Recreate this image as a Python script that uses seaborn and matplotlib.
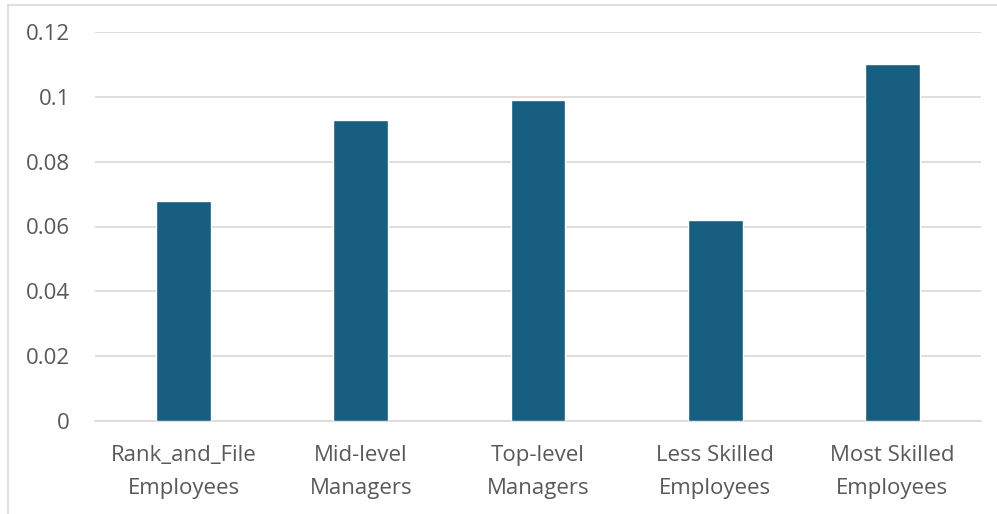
import matplotlib
matplotlib.use("Agg")
import matplotlib.pyplot as plt
import seaborn as sns
import pandas as pd
from matplotlib.lines import Line2D

categories = ["Rank_and_File\nEmployees", "Mid-level\nManagers", "Top-level\nManagers",
              "Less Skilled\nEmployees", "Most Skilled\nEmployees"]
values = [0.068, 0.093, 0.099, 0.062, 0.110]
yticks = [0, 0.02, 0.04, 0.06, 0.08, 0.1, 0.12]
ytick_labels = ["0", "0.02", "0.04", "0.06", "0.08", "0.1", "0.12"]

sns.set_style("white")
plt.rcParams['font.family'] = ['Open Sans', 'DejaVu Sans']

df = pd.DataFrame({"cat": categories, "val": values})

fig = plt.figure(figsize=(9.97, 5.14), dpi=100)
ax = fig.add_axes([95/997, 1 - 421/514, (981 - 95)/997, (421 - 32)/514])

sns.barplot(data=df, x="cat", y="val", color="#175E80", width=0.31, ax=ax,
            saturation=1, zorder=3)

ax.set_ylim(0, 0.12)
ax.set_xlim(-0.5, len(categories) - 0.5)
ax.set_yticks(yticks)
ax.set_yticklabels(ytick_labels)
ax.grid(axis="y", color="#D9D9D9", linewidth=1.2, zorder=0)
ax.set_axisbelow(True)
for s in ["top", "right", "left"]:
    ax.spines[s].set_visible(False)
ax.spines["bottom"].set_color("#D9D9D9")
ax.spines["bottom"].set_linewidth(1.2)
ax.set_xlabel("")
ax.set_ylabel("")
ax.tick_params(axis="both", length=0, labelsize=16, labelcolor="#595959")
ax.tick_params(axis="y", pad=18)
ax.tick_params(axis="x", pad=17)
for lbl in ax.get_xticklabels():
    lbl.set_linespacing(1.75)

# outer frame lines (top and left)
fig.add_artist(Line2D([7.5/997, 1], [1 - 5/514, 1 - 5/514], transform=fig.transFigure,
                      color="#D9D9D9", linewidth=1.2))
fig.add_artist(Line2D([7.5/997, 7.5/997], [0, 1 - 5/514], transform=fig.transFigure,
                      color="#D9D9D9", linewidth=1.2))

fig.savefig("out.png", dpi=100)
